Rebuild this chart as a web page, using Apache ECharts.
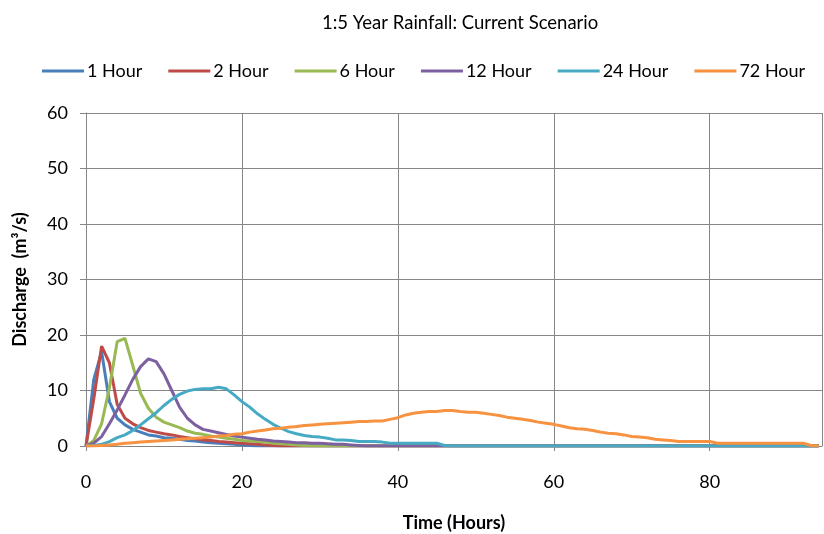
<!DOCTYPE html>
<html>
<head>
<meta charset="utf-8">
<script src="https://cdn.jsdelivr.net/npm/echarts@6/dist/echarts.min.js"></script>
<style>
html,body{margin:0;padding:0;background:#fff;}
#chart{width:824px;height:534px;}
</style>
</head>
<body>
<div id="chart"></div>
<script>
const hours = [0,1,2,3,4,5,6,7,8,9,10,11,12,13,14,15,16,17,18,19,20,21,22,23,24,25,26,27,28,29,30,31,32,33,34,35,36,37,38,39,40,41,42,43,44,45,46,47,48,49,50,51,52,53,54,55,56,57,58,59,60,61,62,63,64,65,66,67,68,69,70,71,72,73,74,75,76,77,78,79,80,81,82,83,84,85,86,87,88,89,90,91,92,93,94];

const seriesNames = ['1 Hour','2 Hour','6 Hour','12 Hour','24 Hour','72 Hour'];

const hour1 = [0,12,17,8,5,3.8,3,2.5,2,1.8,1.5,1.4,1.2,1,0.9,0.7,0.6,0.5,0.4,0.3,0.2,0.1,0,0,0,0,0,0,0,0,0,0,0,0,0,0,0,0,0,0,0,0,0,0,0,0,0,0,0,0,0,0,0,0,0,0,0,0,0,0,0,0,0,0,0,0,0,0,0,0,0,0,0,0,0,0,0,0,0,0,0,0,0,0,0,0,0,0,0,0,0,0,0,0,0];

const hour2 = [0,8.5,18,15,7.5,5,4,3.3,2.8,2.5,2.2,2,1.7,1.5,1.3,1.1,1,0.8,0.7,0.6,0.5,0.4,0.3,0.2,0.1,0,0,0,0,0,0,0,0,0,0,0,0,0,0,0,0,0,0,0,0,0,0,0,0,0,0,0,0,0,0,0,0,0,0,0,0,0,0,0,0,0,0,0,0,0,0,0,0,0,0,0,0,0,0,0,0,0,0,0,0,0,0,0,0,0,0,0,0,0,0];

const hour6 = [0,1,4,10.5,18.8,19.4,14.5,9.5,6.8,5.2,4.3,3.8,3.3,2.7,2.3,2.1,1.8,1.6,1.4,1.2,1,0.9,0.8,0.7,0.5,0.4,0.3,0.2,0.1,0,0,0,0,0,0,0,0,0,0,0,0,0,0,0,0,0,0,0,0,0,0,0,0,0,0,0,0,0,0,0,0,0,0,0,0,0,0,0,0,0,0,0,0,0,0,0,0,0,0,0,0,0,0,0,0,0,0,0,0,0,0,0,0,0,0];

const hour12 = [0,0.5,1.7,4,6.5,9.2,12,14.3,15.7,15.2,13,10,7,5,3.8,3,2.7,2.4,2.1,1.8,1.6,1.4,1.2,1.1,0.9,0.8,0.7,0.6,0.6,0.5,0.5,0.4,0.3,0.3,0.2,0.1,0,0,0,0,0,0,0,0,0,0,0,0,0,0,0,0,0,0,0,0,0,0,0,0,0,0,0,0,0,0,0,0,0,0,0,0,0,0,0,0,0,0,0,0,0,0,0,0,0,0,0,0,0,0,0,0,0,0,0];

const hour24 = [0,0.1,0.3,0.8,1.5,2,2.8,3.8,4.9,6,7.3,8.4,9.3,9.9,10.2,10.3,10.3,10.6,10.3,9.2,8,7,5.8,4.8,3.9,3.2,2.6,2.2,1.9,1.7,1.6,1.4,1.1,1.1,1,0.8,0.8,0.8,0.7,0.5,0.5,0.5,0.5,0.5,0.5,0.5,0.1,0,0,0,0,0,0,0,0,0,0,0,0,0,0,0,0,0,0,0,0,0,0,0,0,0,0,0,0,0,0,0,0,0,0,0,0,0,0,0,0,0,0,0,0,0,0,0,0];

const hour72 = [0,0,0.1,0.2,0.3,0.5,0.6,0.7,0.8,0.9,1,1.1,1.2,1.3,1.4,1.5,1.6,1.8,1.9,2.1,2.2,2.5,2.7,2.9,3.1,3.2,3.4,3.5,3.7,3.8,3.9,4,4.1,4.2,4.3,4.4,4.4,4.5,4.5,4.8,5.1,5.6,5.9,6.1,6.2,6.2,6.4,6.4,6.2,6.1,6.1,5.9,5.7,5.5,5.2,5,4.8,4.6,4.3,4.1,3.9,3.6,3.3,3.1,3,2.8,2.5,2.3,2.2,2,1.7,1.6,1.5,1.2,1.1,1,0.8,0.8,0.8,0.8,0.8,0.5,0.5,0.5,0.5,0.5,0.5,0.5,0.5,0.5,0.5,0.5,0.5,0.1,0];

const xTicks = [0,20,40,60,80];
const yTicks = [0,10,20,30,40,50,60];

const colors = ['#4A7EBB','#BE4B48','#98B954','#7D60A0','#46AAC5','#F69240'];
const allValues = [hour1,hour2,hour6,hour12,hour24,hour72];

const FONT = 'Lato';
const chart = echarts.init(document.getElementById('chart'), null, {renderer:'canvas'});
const series = seriesNames.map((name,i)=>({
  name,
  type:'line',
  data: hours.map((h,j)=>[h, allValues[i][j]]),
  showSymbol:false,
  symbol:'none',
  lineStyle:{width:3,color:colors[i]},
  itemStyle:{color:colors[i]},
  animation:false,
  z: 2+i
}));

chart.setOption({
  animation:false,
  backgroundColor:'#fff',
  color:colors,
  title:{
    text:'1:5 Year Rainfall: Current Scenario',
    left:317,
    top:9,
    textStyle:{fontFamily:FONT,fontSize:18.5,fontWeight:'normal',color:'#000'}
  },
  legend:{
    top:57,
    left:37,
    itemWidth:42,
    itemHeight:3,
    itemGap:26,
    icon:'rect',
    textStyle:{fontFamily:FONT,fontSize:18,color:'#000',padding:[0,0,0,-2]},
    data:seriesNames
  },
  grid:{left:86,right:2,top:113,bottom:88,containLabel:false,outerBoundsMode:'none'},
  xAxis:{
    type:'value',
    min:0,
    max:94.4,
    interval:20,
    name:'Time (Hours)',
    nameLocation:'middle',
    nameGap:68,
    nameTextStyle:{fontFamily:FONT,fontSize:18,fontWeight:'bold',color:'#000'},
    axisLine:{show:true,lineStyle:{color:'#868686',width:1}},
    axisTick:{show:true,length:5,inside:false,lineStyle:{color:'#868686'}},
    axisLabel:{fontFamily:FONT,fontSize:18,color:'#000',margin:27,showMaxLabel:false,
      formatter:v=> xTicks.indexOf(v)>=0 ? String(v) : ''},
    splitLine:{show:true,lineStyle:{color:'#868686',width:1}}
  },
  yAxis:{
    type:'value',
    min:0,
    max:60,
    interval:10,
    name:'Discharge  (m³/s)',
    nameLocation:'middle',
    nameGap:57,
    nameTextStyle:{fontFamily:FONT,fontSize:18,fontWeight:'bold',color:'#000'},
    axisLine:{show:true,lineStyle:{color:'#868686',width:1}},
    axisTick:{show:true,length:6,inside:false,lineStyle:{color:'#868686'}},
    axisLabel:{fontFamily:FONT,fontSize:18,color:'#000',margin:18,
      formatter:v=> yTicks.indexOf(v)>=0 ? String(v) : ''},
    splitLine:{show:true,lineStyle:{color:'#868686',width:1}}
  },
  series
});
</script>
</body>
</html>
